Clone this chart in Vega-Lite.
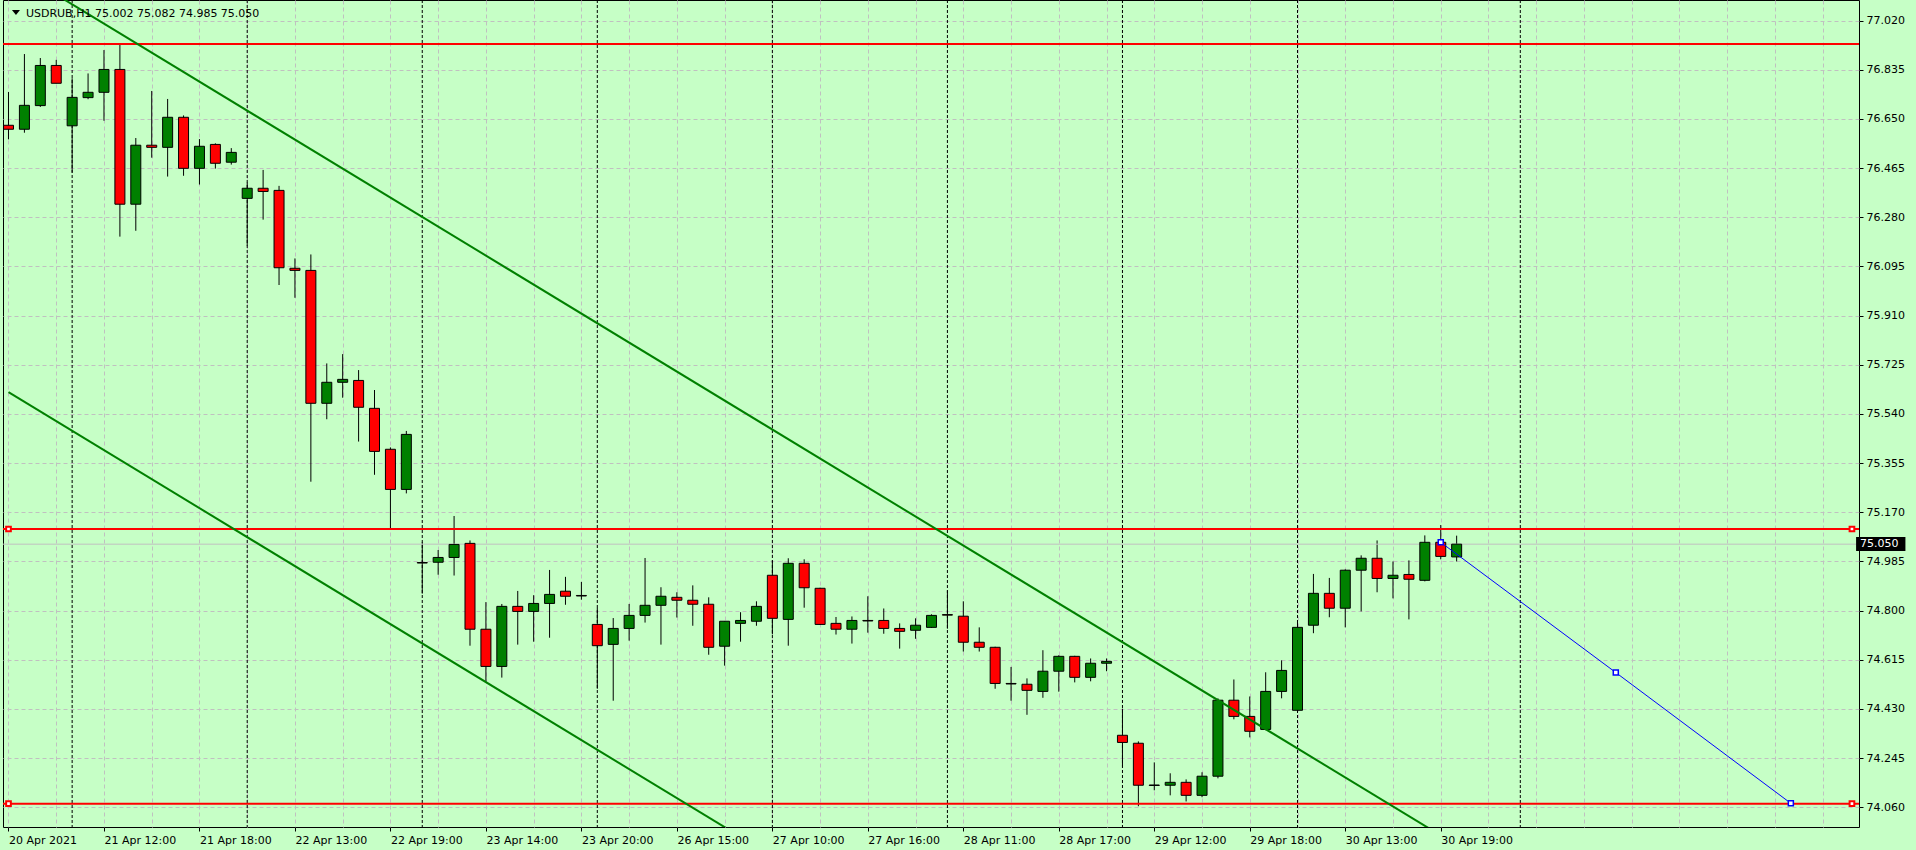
{
  "$schema": "https://vega.github.io/schema/vega-lite/v6.json",
  "width": 1856,
  "height": 827,
  "autosize": {"type": "none"},
  "padding": {"left": 3, "top": 0, "right": 57, "bottom": 23},
  "background": "#c6ffc6",
  "config": {
    "view": {"stroke": "#000000", "strokeWidth": 1},
    "font": "DejaVu Sans",
    "axis": {"labelFont": "DejaVu Sans", "labelFontSize": 11, "labelColor": "#000000", "title": null}
  },
  "datasets": {
    "candles": [
      {"i":0,"o":76.626,"h":76.751,"l":76.573,"c":76.611},
      {"i":1,"o":76.611,"h":76.894,"l":76.598,"c":76.701},
      {"i":2,"o":76.700,"h":76.879,"l":76.695,"c":76.851},
      {"i":3,"o":76.851,"h":76.872,"l":76.784,"c":76.784},
      {"i":4,"o":76.624,"h":76.803,"l":76.448,"c":76.731},
      {"i":5,"o":76.730,"h":76.821,"l":76.724,"c":76.750},
      {"i":6,"o":76.750,"h":76.909,"l":76.643,"c":76.836},
      {"i":7,"o":76.836,"h":76.934,"l":76.207,"c":76.329},
      {"i":8,"o":76.329,"h":76.578,"l":76.229,"c":76.551},
      {"i":9,"o":76.551,"h":76.755,"l":76.504,"c":76.543},
      {"i":10,"o":76.543,"h":76.725,"l":76.433,"c":76.656},
      {"i":11,"o":76.656,"h":76.663,"l":76.436,"c":76.464},
      {"i":12,"o":76.464,"h":76.574,"l":76.403,"c":76.547},
      {"i":13,"o":76.554,"h":76.558,"l":76.463,"c":76.483},
      {"i":14,"o":76.487,"h":76.540,"l":76.478,"c":76.524},
      {"i":15,"o":76.351,"h":76.410,"l":76.173,"c":76.389},
      {"i":16,"o":76.389,"h":76.458,"l":76.271,"c":76.377},
      {"i":17,"o":76.381,"h":76.398,"l":76.025,"c":76.090},
      {"i":18,"o":76.088,"h":76.125,"l":75.977,"c":76.080},
      {"i":19,"o":76.080,"h":76.140,"l":75.285,"c":75.580},
      {"i":20,"o":75.580,"h":75.730,"l":75.520,"c":75.659},
      {"i":21,"o":75.659,"h":75.765,"l":75.601,"c":75.670},
      {"i":22,"o":75.666,"h":75.705,"l":75.436,"c":75.565},
      {"i":23,"o":75.561,"h":75.630,"l":75.311,"c":75.399},
      {"i":24,"o":75.407,"h":75.414,"l":75.110,"c":75.256},
      {"i":25,"o":75.256,"h":75.476,"l":75.241,"c":75.463},
      {"i":26,"o":74.981,"h":75.057,"l":74.864,"c":74.979},
      {"i":27,"o":74.982,"h":75.028,"l":74.935,"c":75.000},
      {"i":28,"o":75.000,"h":75.156,"l":74.932,"c":75.049},
      {"i":29,"o":75.053,"h":75.064,"l":74.668,"c":74.730},
      {"i":30,"o":74.730,"h":74.832,"l":74.533,"c":74.590},
      {"i":31,"o":74.590,"h":74.825,"l":74.548,"c":74.816},
      {"i":32,"o":74.816,"h":74.874,"l":74.672,"c":74.797},
      {"i":33,"o":74.797,"h":74.858,"l":74.683,"c":74.827},
      {"i":34,"o":74.827,"h":74.953,"l":74.698,"c":74.861},
      {"i":35,"o":74.873,"h":74.927,"l":74.822,"c":74.854},
      {"i":36,"o":74.857,"h":74.908,"l":74.841,"c":74.855},
      {"i":37,"o":74.748,"h":74.810,"l":74.506,"c":74.668},
      {"i":38,"o":74.673,"h":74.772,"l":74.461,"c":74.733},
      {"i":39,"o":74.733,"h":74.825,"l":74.687,"c":74.782},
      {"i":40,"o":74.782,"h":74.998,"l":74.755,"c":74.820},
      {"i":41,"o":74.820,"h":74.888,"l":74.672,"c":74.854},
      {"i":42,"o":74.850,"h":74.869,"l":74.774,"c":74.839},
      {"i":43,"o":74.839,"h":74.895,"l":74.743,"c":74.824},
      {"i":44,"o":74.824,"h":74.850,"l":74.634,"c":74.662},
      {"i":45,"o":74.666,"h":74.760,"l":74.593,"c":74.760},
      {"i":46,"o":74.752,"h":74.794,"l":74.683,"c":74.763},
      {"i":47,"o":74.760,"h":74.835,"l":74.743,"c":74.816},
      {"i":48,"o":74.933,"h":74.989,"l":74.711,"c":74.771},
      {"i":49,"o":74.767,"h":74.997,"l":74.668,"c":74.978},
      {"i":50,"o":74.978,"h":74.993,"l":74.811,"c":74.886},
      {"i":51,"o":74.884,"h":74.886,"l":74.746,"c":74.748},
      {"i":52,"o":74.752,"h":74.776,"l":74.710,"c":74.730},
      {"i":53,"o":74.730,"h":74.778,"l":74.676,"c":74.763},
      {"i":54,"o":74.763,"h":74.854,"l":74.717,"c":74.761},
      {"i":55,"o":74.763,"h":74.808,"l":74.713,"c":74.733},
      {"i":56,"o":74.733,"h":74.752,"l":74.657,"c":74.722},
      {"i":57,"o":74.726,"h":74.771,"l":74.694,"c":74.745},
      {"i":58,"o":74.737,"h":74.786,"l":74.735,"c":74.782},
      {"i":59,"o":74.785,"h":74.876,"l":74.732,"c":74.783},
      {"i":60,"o":74.779,"h":74.835,"l":74.646,"c":74.681},
      {"i":61,"o":74.681,"h":74.737,"l":74.646,"c":74.662},
      {"i":62,"o":74.662,"h":74.664,"l":74.506,"c":74.526},
      {"i":63,"o":74.526,"h":74.588,"l":74.461,"c":74.524},
      {"i":64,"o":74.523,"h":74.545,"l":74.408,"c":74.500},
      {"i":65,"o":74.496,"h":74.651,"l":74.472,"c":74.572},
      {"i":66,"o":74.572,"h":74.632,"l":74.495,"c":74.628},
      {"i":67,"o":74.628,"h":74.630,"l":74.530,"c":74.549},
      {"i":68,"o":74.549,"h":74.620,"l":74.534,"c":74.602},
      {"i":69,"o":74.602,"h":74.620,"l":74.572,"c":74.609},
      {"i":70,"o":74.331,"h":74.431,"l":74.213,"c":74.304},
      {"i":71,"o":74.301,"h":74.308,"l":74.064,"c":74.143},
      {"i":72,"o":74.144,"h":74.229,"l":74.124,"c":74.142},
      {"i":73,"o":74.143,"h":74.188,"l":74.105,"c":74.154},
      {"i":74,"o":74.154,"h":74.165,"l":74.082,"c":74.105},
      {"i":75,"o":74.105,"h":74.192,"l":74.098,"c":74.177},
      {"i":76,"o":74.177,"h":74.470,"l":74.169,"c":74.463},
      {"i":77,"o":74.463,"h":74.541,"l":74.391,"c":74.402},
      {"i":78,"o":74.402,"h":74.477,"l":74.323,"c":74.346},
      {"i":79,"o":74.353,"h":74.568,"l":74.350,"c":74.496},
      {"i":80,"o":74.496,"h":74.613,"l":74.470,"c":74.575},
      {"i":81,"o":74.425,"h":74.763,"l":74.417,"c":74.737},
      {"i":82,"o":74.745,"h":74.938,"l":74.715,"c":74.865},
      {"i":83,"o":74.865,"h":74.923,"l":74.775,"c":74.809},
      {"i":84,"o":74.809,"h":74.955,"l":74.737,"c":74.952},
      {"i":85,"o":74.952,"h":75.008,"l":74.797,"c":74.997},
      {"i":86,"o":74.997,"h":75.064,"l":74.869,"c":74.921},
      {"i":87,"o":74.921,"h":74.985,"l":74.846,"c":74.933},
      {"i":88,"o":74.936,"h":74.989,"l":74.767,"c":74.918},
      {"i":89,"o":74.914,"h":75.083,"l":74.910,"c":75.057},
      {"i":90,"o":75.057,"h":75.122,"l":74.993,"c":75.004},
      {"i":91,"o":75.002,"h":75.082,"l":74.985,"c":75.050}
    ],
    "separators": [{"i":4},{"i":15},{"i":26},{"i":37},{"i":48},{"i":59},{"i":70},{"i":81},{"i":95}],
    "levels": [{"p":76.932},{"p":75.107},{"p":74.0735}],
    "levelEnds": [{"i":0,"p":75.107},{"i":115.84,"p":75.107},{"i":0,"p":74.0735},{"i":115.84,"p":74.0735}],
    "channel": [{"g":"upper","i":0,"p":77.2265},{"g":"upper","i":92,"p":73.8814},{"g":"lower","i":0,"p":75.622},{"g":"lower","i":60,"p":73.440}],
    "blue": [{"i":90,"p":75.057},{"i":101,"p":74.567},{"i":112,"p":74.075}]
  },
  "layer": [
    {
      "data": {"name": "candles"},
      "mark": {"type": "rule", "color": "#000000", "strokeWidth": 1},
      "encoding": {
        "x": {"field": "i", "type": "quantitative",
          "scale": {"domain": [-0.03125, 115.96875], "nice": false, "zero": false},
          "axis": {
            "title": null, "orient": "bottom", "domain": false,
            "values": [0,3,6,9,12,15,18,21,24,27,30,33,36,39,42,45,48,51,54,57,60,63,66,69,72,75,78,81,84,87,90,93,96,99,102,105,108,111,114],
            "grid": true, "gridColor": "#c0c0c0", "gridDash": [4,3], "gridWidth": 1,
            "ticks": true, "tickColor": "#000000", "tickSize": 4,
            "tickOpacity": {"condition": {"test": "datum.value % 6 === 0 && datum.value <= 90", "value": 1}, "value": 0},
            "labelExpr": "(datum.value % 6 === 0 && datum.value <= 90) ? ['20 Apr 2021','21 Apr 12:00','21 Apr 18:00','22 Apr 13:00','22 Apr 19:00','23 Apr 14:00','23 Apr 20:00','26 Apr 15:00','27 Apr 10:00','27 Apr 16:00','28 Apr 11:00','28 Apr 17:00','29 Apr 12:00','29 Apr 18:00','30 Apr 13:00','30 Apr 19:00'][datum.value / 6] : ''",
            "labelAlign": "left", "labelBaseline": "top", "labelPadding": 3,
            "labelOverlap": false, "labelFlush": false, "labelBound": false
          }
        },
        "y": {"field": "l", "type": "quantitative",
          "scale": {"domain": [73.9859, 77.0973], "nice": false, "zero": false},
          "axis": {
            "title": null, "orient": "right", "domain": false,
            "values": [74.06,74.245,74.43,74.615,74.8,74.985,75.17,75.355,75.54,75.725,75.91,76.095,76.28,76.465,76.65,76.835,77.02],
            "format": ".3f",
            "grid": true, "gridColor": "#c0c0c0", "gridDash": [4,3], "gridWidth": 1,
            "ticks": true, "tickColor": "#000000", "tickSize": 4,
            "labelPadding": 3, "labelBaseline": "middle",
            "labelOverlap": false, "labelFlush": false, "labelBound": false
          }
        },
        "y2": {"field": "h"}
      }
    },
    {
      "data": {"name": "separators"},
      "mark": {"type": "rule", "color": "#000000", "strokeWidth": 1, "strokeDash": [3,2]},
      "encoding": {
        "x": {"field": "i", "type": "quantitative"}
      }
    },
    {
      "data": {"values": [{}]},
      "mark": {"type": "rule", "color": "#c0c0c0", "strokeWidth": 1},
      "encoding": {
        "y": {"datum": 75.05}
      }
    },
    {
      "data": {"name": "candles"},
      "mark": {"type": "bar", "size": 10, "stroke": "#000000", "strokeWidth": 1},
      "encoding": {
        "x": {"field": "i", "type": "quantitative"},
        "y": {"field": "o", "type": "quantitative"},
        "y2": {"field": "c"},
        "color": {"condition": {"test": "datum.c > datum.o", "value": "#008000"}, "value": "#ff0000"}
      }
    },
    {
      "data": {"name": "levels"},
      "mark": {"type": "rule", "color": "#ff0000", "strokeWidth": 2},
      "encoding": {
        "y": {"field": "p", "type": "quantitative"}
      }
    },
    {
      "data": {"name": "channel"},
      "mark": {"type": "line", "color": "#008000", "strokeWidth": 2, "clip": true},
      "encoding": {
        "x": {"field": "i", "type": "quantitative"},
        "y": {"field": "p", "type": "quantitative"},
        "detail": {"field": "g"}
      }
    },
    {
      "data": {"name": "levelEnds"},
      "mark": {"type": "point", "shape": "square", "size": 22, "filled": true, "fill": "#ffffff", "stroke": "#ff0000", "strokeWidth": 2, "opacity": 1},
      "encoding": {
        "x": {"field": "i", "type": "quantitative"},
        "y": {"field": "p", "type": "quantitative"}
      }
    },
    {
      "data": {"name": "blue"},
      "mark": {"type": "line", "color": "#0000ff", "strokeWidth": 1},
      "encoding": {
        "x": {"field": "i", "type": "quantitative"},
        "y": {"field": "p", "type": "quantitative"}
      }
    },
    {
      "data": {"name": "blue"},
      "mark": {"type": "point", "shape": "square", "size": 25, "filled": true, "fill": "#ffffff", "stroke": "#0000ff", "strokeWidth": 1.5, "opacity": 1},
      "encoding": {
        "x": {"field": "i", "type": "quantitative"},
        "y": {"field": "p", "type": "quantitative"}
      }
    },
    {
      "data": {"values": [{}]},
      "mark": {"type": "point", "shape": "M-1,-0.6L1,-0.6L0,0.6Z", "size": 64, "filled": true, "fill": "#000000", "strokeWidth": 0, "opacity": 1},
      "encoding": {
        "x": {"datum": 0.469},
        "y": {"datum": 77.0503}
      }
    },
    {
      "data": {"values": [{}]},
      "mark": {"type": "text", "align": "left", "baseline": "alphabetic", "fontSize": 11, "font": "DejaVu Sans", "color": "#000000"},
      "encoding": {
        "x": {"datum": 1.094},
        "y": {"datum": 77.0344},
        "text": {"value": "USDRUB,H1  75.002 75.082 74.985 75.050"}
      }
    },
    {
      "data": {"values": [{}]},
      "mark": {"type": "rect", "color": "#000000"},
      "encoding": {
        "x": {"datum": 116.1},
        "x2": {"datum": 119.2},
        "y": {"datum": 75.077},
        "y2": {"datum": 75.024}
      }
    },
    {
      "data": {"values": [{}]},
      "mark": {"type": "text", "align": "left", "baseline": "middle", "fontSize": 11, "font": "DejaVu Sans", "color": "#ffffff"},
      "encoding": {
        "x": {"datum": 116.35},
        "y": {"datum": 75.05},
        "text": {"value": "75.050"}
      }
    }
  ]
}
